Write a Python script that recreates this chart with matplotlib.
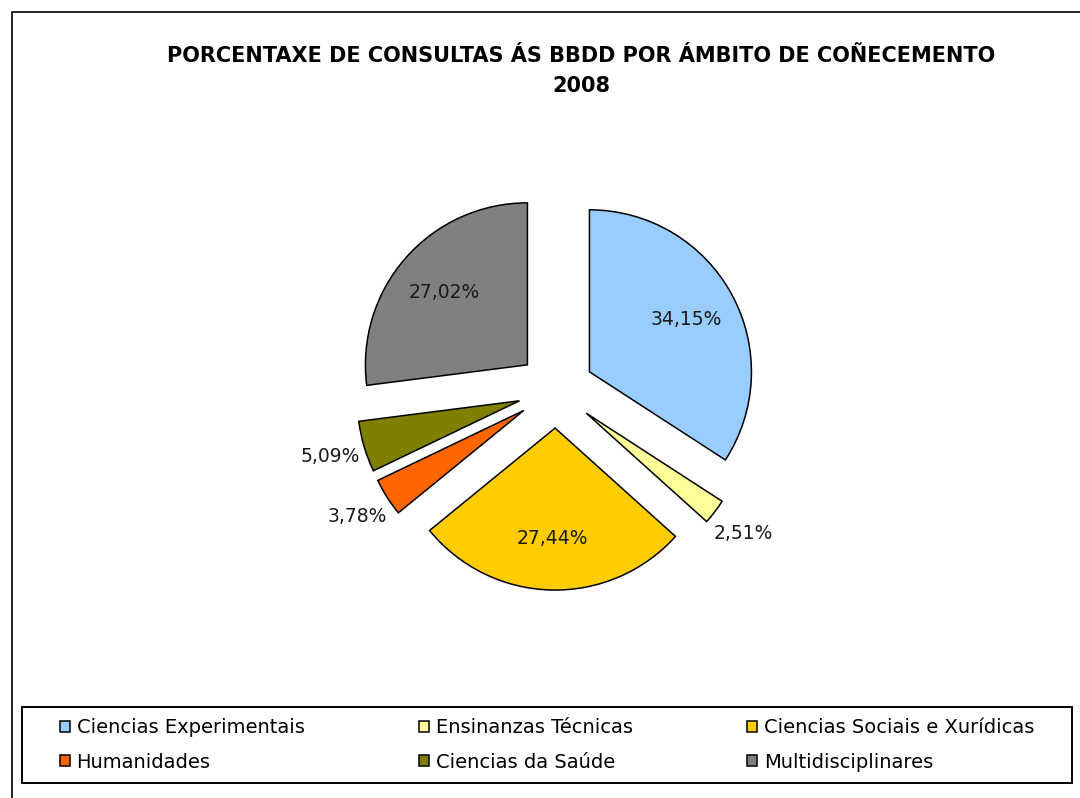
import numpy as np
import matplotlib.pyplot as plt
from matplotlib.patches import Rectangle

# Data
categories = ['Ciencias Experimentais', 'Ensinanzas Técnicas',
              'Ciencias Sociais e Xurídicas', 'Humanidades',
              'Ciencias da Saúde', 'Multidisciplinares']
values = [34.15, 2.51, 27.44, 3.78, 5.09, 27.02]
colors = ['#99CCFF', '#FFFF99', '#FFCC00', '#FF6600', '#808000', '#808080']
title = 'PORCENTAXE DE CONSULTAS ÁS BBDD POR ÁMBITO DE COÑECEMENTO\n2008'

W, H = 1080, 798
plt.rcParams['font.family'] = ['DejaVu Sans']

fig = plt.figure(figsize=(W / 100, H / 100), dpi=100)
ax = fig.add_axes([0, 0, 1, 1])

# Pie in pixel units (y up)
R = 162
cx, cy = 556, H - 390
wedges, _ = ax.pie(values, colors=colors, startangle=90, counterclock=False,
                   radius=R, center=(cx, cy), explode=[0.235 * R] * len(values),
                   wedgeprops=dict(edgecolor='black', linewidth=1.1))
ax.set_xlim(0, W)
ax.set_ylim(0, H)
ax.set_aspect('equal')
ax.axis('off')

# Percent labels
for w, v in zip(wedges, values):
    theta = np.deg2rad((w.theta1 + w.theta2) / 2)
    x0, y0 = w.center
    d = 1.22 if v < 6 else 0.68
    ax.text(x0 + d * R * np.cos(theta), y0 + d * R * np.sin(theta),
            f'{v:.2f}%'.replace('.', ','), ha='center', va='center',
            fontsize=13.5, color='#1a1a1a')

# Title
ax.text(581, H - 71, title, ha='center', va='center', fontsize=15,
        fontweight='bold', linespacing=1.65)

# Outer frame
ax.add_patch(Rectangle((12, -20), W, H - 12 + 20, fill=False,
                       edgecolor='black', linewidth=1.2))

# Legend frame
ax.add_patch(Rectangle((22, H - 783), 1050, 76, fill=False,
                       edgecolor='black', linewidth=1.4))

# Legend, filled row by row (3 columns x 2 rows)
order = [0, 3, 1, 4, 2, 5]
leg = ax.legend([wedges[i] for i in order], [categories[i] for i in order],
                ncol=3, loc='center left', frameon=False,
                bbox_to_anchor=(60 / W, (H - 745) / H),
                handlelength=0.5, handleheight=0.5, handletextpad=0.35,
                fontsize=14, borderaxespad=0, borderpad=0,
                labelspacing=0.8, columnspacing=5.9)

plt.savefig('out.png', dpi=100)
